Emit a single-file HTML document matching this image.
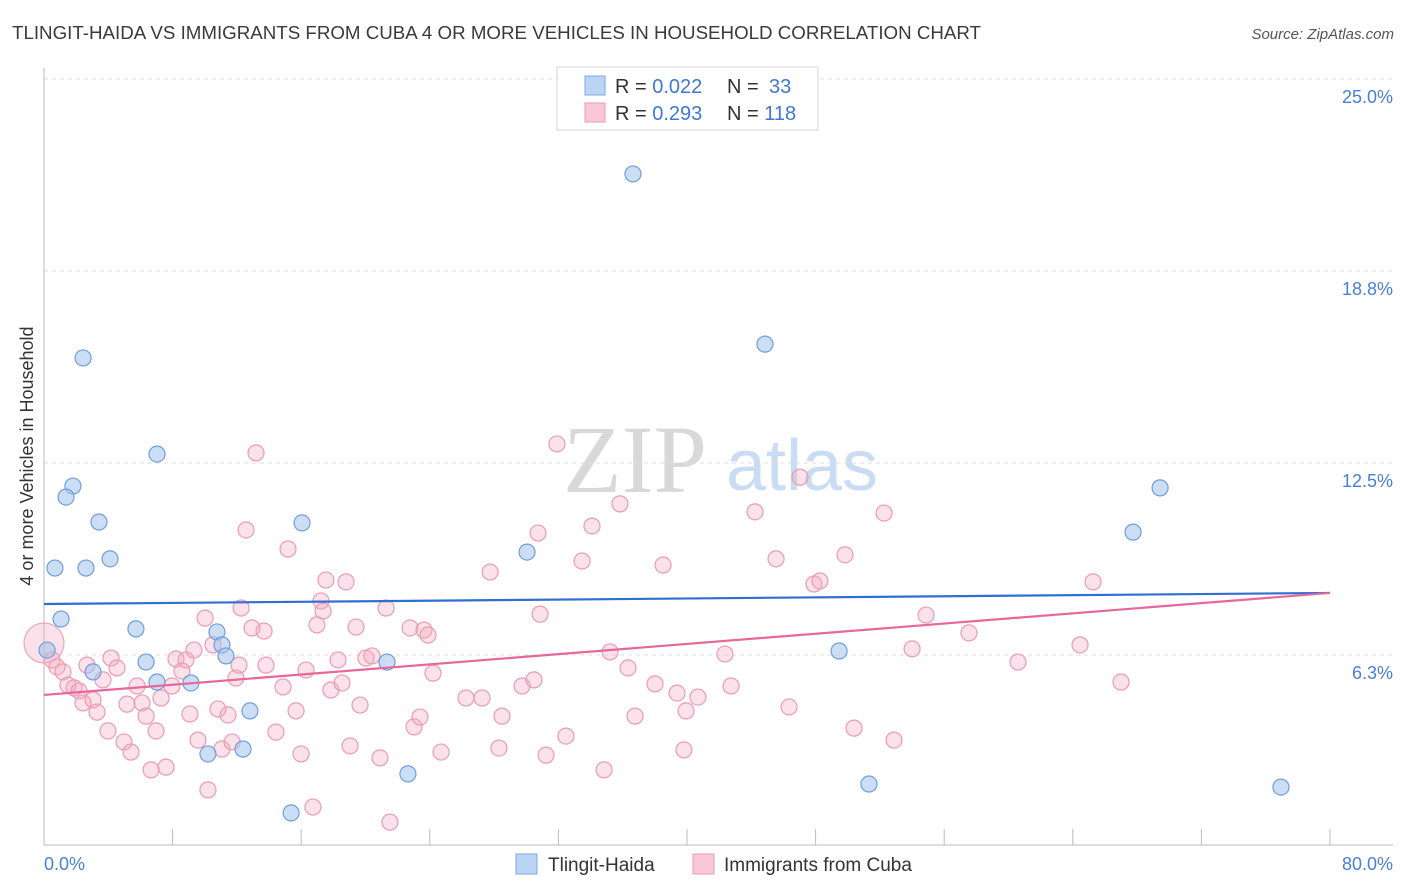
<!DOCTYPE html>
<html><head><meta charset="utf-8">
<style>
body{margin:0;background:#fff;font-family:"Liberation Sans",sans-serif;}
#wrap{position:relative;width:1406px;height:892px;overflow:hidden;}
</style></head>
<body>
<div id="wrap">
<svg id="svg" width="1406" height="892" xmlns="http://www.w3.org/2000/svg">
<text x="12" y="39" font-size="18" fill="#3a3a3a" textLength="969" lengthAdjust="spacingAndGlyphs">TLINGIT-HAIDA VS IMMIGRANTS FROM CUBA 4 OR MORE VEHICLES IN HOUSEHOLD CORRELATION CHART</text>
<text x="1394" y="39" font-size="15" fill="#555" font-style="italic" text-anchor="end">Source: ZipAtlas.com</text>
<text x="635" y="492" font-size="96" fill="#d8d8d8" font-family="Liberation Serif,serif" text-anchor="middle">ZIP</text>
<text x="802" y="490" font-size="72" fill="#c9dcf3" text-anchor="middle">atlas</text>
<text x="33" y="456" font-size="18" fill="#333" text-anchor="middle" transform="rotate(-90 33 456)">4 or more Vehicles in Household</text>
<g id="grid"></g><g id="marks"></g><g id="lines"></g>
<g>
<rect x="557" y="67" width="261" height="63" fill="#fff" stroke="#d6d6d6"/>
<rect x="585" y="76" width="20" height="19" fill="#bcd4f4" stroke="#7ea7e0"/>
<rect x="585" y="103" width="20" height="19" fill="#f9c8d6" stroke="#eb9bb3"/>
<text x="615" y="93" font-size="20" fill="#333">R = <tspan fill="#3e78d4">0.022</tspan></text>
<text x="727" y="93" font-size="20" fill="#333">N = <tspan x="769" fill="#3e78d4">33</tspan></text>
<text x="615" y="120" font-size="20" fill="#333">R = <tspan fill="#3e78d4">0.293</tspan></text>
<text x="727" y="120" font-size="20" fill="#333">N = <tspan fill="#3e78d4">118</tspan></text>
</g>
<g>
<rect x="516" y="854" width="21" height="20" fill="#bcd4f4" stroke="#7ea7e0"/>
<text x="548" y="871" font-size="19" fill="#333">Tlingit-Haida</text>
<rect x="693" y="854" width="21" height="20" fill="#f9c8d6" stroke="#eb9bb3"/>
<text x="724" y="871" font-size="19" fill="#333">Immigrants from Cuba</text>
</g>
<text x="44" y="870" font-size="18" fill="#4a7fd6">0.0%</text>
<text x="1393" y="870" font-size="18" fill="#4a7fd6" text-anchor="end">80.0%</text>
</svg>
</div>
<script>
const yTicks=[6.25,12.5,18.75,25];
const yTickLabels=["6.3%","12.5%","18.8%","25.0%"];
const xTicks=[8,16,24,32,40,48,56,64,72,80];
const blueX=[2.43,7.03,1.80,1.37,3.42,16.05,0.68,2.61,4.11,1.06,5.72,0.19,6.35,3.05,7.03,9.14,10.76,11.07,11.32,12.81,10.20,12.38,15.37,21.34,22.64,30.05,36.64,44.85,49.46,51.32,67.75,69.43,76.95];
const blueY=[15.92,12.79,11.75,11.39,10.58,10.55,9.08,9.08,9.38,7.42,7.10,6.41,6.02,5.70,5.37,5.34,7.00,6.58,6.22,4.43,3.03,3.19,1.11,6.02,2.38,9.60,21.91,16.37,6.38,2.05,10.25,11.69,1.95];
const pinkX=[0.50,0.81,1.18,1.49,1.87,2.18,2.43,2.67,3.05,3.30,3.67,3.98,4.17,4.54,4.98,5.16,5.41,5.79,6.10,6.35,6.66,6.97,7.28,7.59,7.96,8.21,8.58,8.83,9.08,9.33,9.58,10.02,10.20,10.51,10.82,11.07,11.45,11.70,11.94,12.13,12.26,12.57,12.94,13.19,13.69,13.81,14.43,14.87,15.18,15.68,15.99,16.30,16.73,16.98,17.23,17.36,17.54,17.85,18.29,18.54,18.79,19.04,19.41,19.66,20.03,20.40,20.90,21.28,21.52,22.77,23.02,23.39,23.64,23.89,24.20,24.70,26.25,27.25,27.75,28.30,28.49,29.74,30.48,30.73,30.86,31.23,31.91,32.47,33.47,34.09,34.84,35.21,35.83,36.33,36.77,38.01,38.51,39.38,39.81,39.94,40.68,42.36,42.74,44.23,45.54,46.35,47.03,47.90,48.27,49.83,50.39,52.26,52.88,54.00,54.87,57.54,60.59,64.45,65.26,67.00];
const pinkY=[6.09,5.86,5.70,5.27,5.18,5.08,4.69,5.92,4.79,4.39,5.44,3.78,6.15,5.83,3.42,4.65,3.09,5.24,4.69,4.26,2.51,3.78,4.85,2.60,5.24,6.12,5.73,6.09,4.33,6.41,3.48,7.45,1.86,6.58,4.49,3.19,4.30,3.42,5.50,5.92,7.78,10.32,7.13,12.83,7.03,5.92,3.74,5.21,9.70,4.43,3.03,5.76,1.30,7.23,8.01,7.68,8.69,5.11,6.09,5.34,8.63,3.29,7.16,4.62,6.15,6.22,2.90,7.78,0.81,7.13,3.91,4.23,7.06,6.90,5.66,3.09,4.85,4.85,8.95,3.22,4.26,5.24,5.44,10.22,7.58,2.99,13.12,3.61,9.31,10.45,2.51,6.35,11.17,5.83,4.26,5.31,9.18,5.01,3.16,4.43,4.88,6.28,5.24,10.91,9.38,4.56,12.04,8.56,8.66,9.51,3.87,10.87,3.48,6.45,7.55,6.97,6.02,6.58,8.63,5.37];
const blueTrend=[7.91,8.27];
const pinkTrend=[4.95,8.27];
const xr=v=>44+v*(1330-44)/80;
const yr=v=>847-v*30.72;
const NS="http://www.w3.org/2000/svg";
function mk(tag,attrs,parent){const e=document.createElementNS(NS,tag);for(const k in attrs)e.setAttribute(k,attrs[k]);parent.appendChild(e);return e;}
const grid=document.getElementById('grid'),marks=document.getElementById('marks'),lines=document.getElementById('lines');
yTicks.forEach((t,i)=>{
 let l=mk('line',{x1:44,x2:1393,y1:yr(t),y2:yr(t),stroke:'#dcdcdc','stroke-dasharray':'4,4'},grid);
 
 
 let tx=mk('text',{x:1393,y:yr(t)+24,'font-size':18,fill:'#4a7fd6','text-anchor':'end'},grid);
 tx.textContent=yTickLabels[i];
 
 
});
let ax=mk('line',{x1:44,x2:44,y1:68,y2:845,stroke:'#bbb'},grid);


let bx=mk('line',{x1:44,x2:1393,y1:845,y2:845,stroke:'#bbb'},grid);


xTicks.forEach(t=>{
 let l=mk('line',{x1:xr(t),x2:xr(t),y1:829,y2:845,stroke:'#bbb'},grid);
 
 
});
let big=mk('circle',{cx:xr(0),cy:yr(6.64),r:20,fill:'rgba(244,170,192,0.35)',stroke:'#eb9bb3','stroke-width':1},marks);


pinkX.forEach((x,i)=>{
 let c=mk('circle',{cx:xr(x),cy:yr(pinkY[i]),r:8,fill:'rgba(244,170,192,0.35)',stroke:'#eb9bb3','stroke-width':1.2},marks);
 
 
});
blueX.forEach((x,i)=>{
 let c=mk('circle',{cx:xr(x),cy:yr(blueY[i]),r:8,fill:'rgba(160,194,238,0.55)',stroke:'#6e9edc','stroke-width':1.2},marks);
 
 
});
let bl=mk('line',{x1:xr(0),x2:xr(80),y1:yr(blueTrend[0]),y2:yr(blueTrend[1]),stroke:'#2f6fd0','stroke-width':2.2},lines);


let pl=mk('line',{x1:xr(0),x2:xr(80),y1:yr(pinkTrend[0]),y2:yr(pinkTrend[1]),stroke:'#e8679a','stroke-width':2.2},lines);


</script>
</body></html>
